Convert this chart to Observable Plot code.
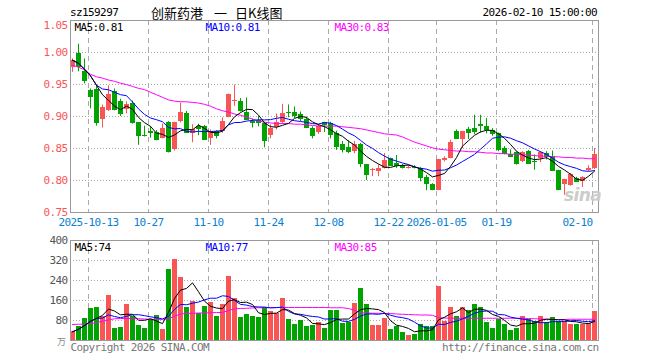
<!DOCTYPE html>
<html><head><meta charset="utf-8">
<script src="https://cdn.jsdelivr.net/npm/d3@7"></script>
<script src="https://cdn.jsdelivr.net/npm/@observablehq/plot@0.6"></script>
<style>
body{margin:0;background:#fff;}
#wrap{position:relative;width:660px;height:360px;overflow:hidden;background:#fff;font-family:"DejaVu Sans Mono",monospace;font-size:11px;letter-spacing:-0.6px;}
.t{position:absolute;white-space:nowrap;line-height:12px;}
.cn{font-family:'Noto Sans CJK SC';font-size:13px;letter-spacing:0;line-height:15px;top:5px;}
#p1,#p2{position:absolute;left:0;}
#p1{top:0;} #p2{top:232px;}
</style></head><body><div id="wrap">
<div class="t" style="left:70px;top:7px;">sz159297</div>
<div class="t cn" style="left:151px;">创新药港</div>
<div class="t cn" style="left:214px;">一</div>
<div class="t cn" style="left:235px;">日K线图</div>
<div class="t" style="right:63px;top:7px;">2026-02-10 15:00:00</div>
<div id="p1"></div><div id="p2"></div>
</div>
<script>
const open  = [0.977,0.999,0.970,0.940,0.942,0.896,0.909,0.939,0.924,0.911,0.921,0.890,0.871,0.877,0.875,0.866,0.891,0.849,0.892,0.905,0.874,0.885,0.884,0.866,0.876,0.876,0.899,0.923,0.924,0.907,0.892,0.894,0.889,0.870,0.883,0.890,0.907,0.907,0.903,0.895,0.882,0.875,0.890,0.889,0.873,0.857,0.852,0.846,0.856,0.825,0.816,0.814,0.819,0.834,0.826,0.824,0.820,0.821,0.819,0.805,0.794,0.785,0.831,0.835,0.876,0.864,0.879,0.881,0.888,0.885,0.878,0.873,0.850,0.841,0.844,0.829,0.846,0.830,0.834,0.842,0.837,0.816,0.793,0.792,0.803,0.798,0.815,0.819];
const high  = [0.990,1.013,0.990,0.943,0.948,0.918,0.948,0.943,0.927,0.923,0.924,0.890,0.885,0.884,0.878,0.888,0.892,0.891,0.921,0.908,0.887,0.888,0.886,0.879,0.878,0.898,0.935,0.949,0.928,0.929,0.896,0.900,0.891,0.887,0.904,0.919,0.918,0.915,0.907,0.899,0.884,0.887,0.891,0.891,0.877,0.861,0.862,0.861,0.858,0.825,0.819,0.824,0.842,0.835,0.839,0.825,0.823,0.823,0.820,0.808,0.795,0.833,0.837,0.863,0.879,0.876,0.883,0.902,0.902,0.897,0.881,0.874,0.853,0.848,0.845,0.845,0.847,0.840,0.845,0.845,0.846,0.816,0.802,0.811,0.805,0.806,0.823,0.850];
const low   = [0.969,0.970,0.951,0.912,0.885,0.882,0.908,0.909,0.900,0.904,0.888,0.855,0.868,0.866,0.862,0.865,0.843,0.846,0.890,0.874,0.859,0.870,0.863,0.855,0.865,0.874,0.898,0.916,0.907,0.894,0.882,0.884,0.851,0.865,0.879,0.888,0.898,0.897,0.892,0.881,0.865,0.872,0.875,0.865,0.847,0.843,0.842,0.842,0.820,0.800,0.806,0.806,0.818,0.823,0.819,0.818,0.818,0.818,0.798,0.784,0.784,0.784,0.829,0.834,0.864,0.850,0.864,0.872,0.874,0.873,0.869,0.845,0.840,0.836,0.824,0.828,0.825,0.816,0.828,0.832,0.814,0.784,0.777,0.791,0.797,0.789,0.814,0.817];
const close = [0.988,0.978,0.956,0.932,0.890,0.914,0.934,0.911,0.904,0.918,0.890,0.870,0.870,0.875,0.864,0.882,0.845,0.890,0.907,0.875,0.879,0.882,0.864,0.877,0.870,0.892,0.934,0.925,0.909,0.896,0.890,0.891,0.863,0.881,0.891,0.905,0.906,0.902,0.897,0.883,0.870,0.884,0.887,0.872,0.853,0.849,0.846,0.857,0.826,0.810,0.817,0.819,0.832,0.824,0.823,0.820,0.821,0.820,0.805,0.796,0.786,0.833,0.835,0.860,0.865,0.876,0.875,0.877,0.886,0.879,0.874,0.849,0.842,0.838,0.826,0.843,0.827,0.829,0.843,0.837,0.815,0.786,0.801,0.810,0.799,0.805,0.818,0.841];
const volume = [35,55,89,129,133,97,181,49,53,145,97,60,49,83,100,45,285,325,253,133,157,107,137,151,97,145,257,167,93,105,97,93,132,116,109,169,83,63,81,56,60,72,49,121,119,68,73,149,207,144,59,59,89,45,55,33,19,23,63,55,55,215,77,131,97,131,121,145,133,73,49,83,64,41,49,97,85,75,97,73,91,77,76,65,65,65,68,117];
const ma30Price = [0.980,0.977,0.973,0.966,0.962,0.960,0.957,0.955,0.952,0.950,0.947,0.944,0.942,0.938,0.934,0.930,0.926,0.924,0.923,0.923,0.922,0.921,0.919,0.916,0.912,0.909,0.907,0.904,0.902,0.899,0.896,0.893,0.891,0.890,0.889,0.889,0.889,0.888,0.888,0.887,0.886,0.885,0.885,0.885,0.885,0.884,0.883,0.882,0.881,0.879,0.877,0.875,0.873,0.872,0.871,0.868,0.864,0.860,0.857,0.854,0.851,0.849,0.848,0.847,0.846,0.846,0.845,0.845,0.844,0.843,0.843,0.842,0.842,0.841,0.841,0.840,0.840,0.839,0.838,0.838,0.837,0.837,0.836,0.836,0.835,0.835,0.834,0.834];
const ma30Vol = [64,65,66,67,72,77,82,87,88,88,88,87,86,85,84,85,87,97,106,108,109,110,110,111,112,112,120,127,128,129,130,131,131,132,132,132,132,132,132,132,132,132,132,131,131,131,128,121,111,110,109,109,108,108,106,105,104,103,102,102,101,91,90,89,89,89,89,89,89,89,89,89,89,89,89,89,88,87,86,85,84,84,84,85,85,85,85,85];
const tickIndex = [3,13,23,33,43,53,61,71,87];
const tickLabel = ["2025-10-13","10-27","11-10","11-24","12-08","12-22","2026-01-05","01-19","02-10"];
const priceTicks = [0.75,0.80,0.85,0.90,0.95,1.00,1.05];
const volTicks = [80,160,240,320,400];
const priceMaLabels = ["MA5:0.81","MA10:0.81","MA30:0.83"];
const volMaLabels = ["MA5:74","MA10:77","MA30:85"];

const RED = "#fa5555", GREEN = "#00a300", GRID = "#aaaaaa", FRAME = "#999999", BLUE_T = "#0a7fd0";
const FONT = "'DejaVu Sans Mono', monospace";
const style = {fontFamily: FONT, fontSize: "11px", letterSpacing: "-0.6px", background: "transparent", overflow: "visible"};

const bars = open.map((o, i) => ({i, o, h: high[i], l: low[i], c: close[i], v: volume[i], col: close[i] >= o ? RED : GREEN}));
const ma = (a, n) => a.map((_, i) => d3.mean(a.slice(Math.max(0, i - n + 1), i + 1)));
const line = arr => arr.map((v, i) => ({x: i + 2/6, y: v}));
const pm5 = ma(close, 5), pm10 = ma(close, 10), vm5 = ma(volume, 5), vm10 = ma(volume, 10);
const ticks = tickIndex.map((t, k) => ({t, label: tickLabel[k], last: k === tickIndex.length - 1}));
const maColors = ["#000000", "#0000ff", "#ff00ff"];
const maX = [4, 135, 264];

const price = Plot.plot({
  width: 660, height: 232, marginLeft: 70, marginRight: 62, marginTop: 20, marginBottom: 20,
  x: {domain: [0, 88], axis: null}, y: {domain: [0.75, 1.05], axis: null}, color: {type: "identity"},
  style,
  marks: [
    Plot.ruleY(priceTicks.slice(1, -1), {stroke: GRID, strokeDasharray: "1,2"}),
    Plot.ruleX(tickIndex, {stroke: GRID, strokeDasharray: "5,4"}),
    Plot.ruleX(bars, {x: d => d.i + 2/6, y1: "l", y2: "h", stroke: "col"}),
    Plot.rect(bars, {x1: d => d.i, x2: d => d.i + 5/6, y1: d => Math.min(d.o, d.c), y2: d => Math.max(d.o, d.c), fill: "col", shapeRendering: "crispEdges"}),
    Plot.ruleY(bars, {x1: d => d.i, x2: d => d.i + 5/6, y: "c", stroke: "col", shapeRendering: "crispEdges"}),
    Plot.line(line(ma30Price), {x: "x", y: "y", stroke: "#ff00ff", strokeWidth: 1}),
    Plot.line(line(pm10), {x: "x", y: "y", stroke: "#0000ff", strokeWidth: 1}),
    Plot.line(line(pm5), {x: "x", y: "y", stroke: "#000000", strokeWidth: 1}),
    Plot.frame({stroke: FRAME}),
    Plot.text(priceTicks.slice(0, -1), {x: 0, y: d => d, dx: -3, text: d => d.toFixed(2), textAnchor: "end", fill: RED}),
    Plot.text([1.05], {x: 0, y: d => d, dx: -3, dy: 5, text: d => d.toFixed(2), textAnchor: "end", fill: RED}),
    Plot.text(ticks.filter(d => !d.last), {x: "t", y: 0.75, dy: 10, text: "label", textAnchor: "middle", fill: BLUE_T}),
    Plot.text(ticks.filter(d => d.last), {x: "t", y: 0.75, dy: 10, text: "label", textAnchor: "end", fill: BLUE_T}),
    Plot.text(priceMaLabels.map((s, k) => ({s, k})), {x: d => maX[d.k] / 6, frameAnchor: "top", text: "s", fill: d => maColors[d.k], textAnchor: "start", lineAnchor: "middle", dy: 7}),
    Plot.text(["sina"], {frameAnchor: "bottom-right", dx: -16, dy: -12, text: d => d, fill: "#cccccc", fontSize: 17, fontWeight: "bold", fontStyle: "italic", fontFamily: "DejaVu Sans", textAnchor: "middle", letterSpacing: "0"})
  ]
});
document.getElementById("p1").append(price);

const vol = Plot.plot({
  width: 660, height: 128, marginLeft: 70, marginRight: 62, marginTop: 8, marginBottom: 20,
  x: {domain: [0, 88], axis: null}, y: {domain: [0, 400], axis: null}, color: {type: "identity"},
  style,
  marks: [
    Plot.ruleY(volTicks.slice(0, -1), {stroke: GRID, strokeDasharray: "1,2"}),
    Plot.ruleX(tickIndex, {stroke: GRID, strokeDasharray: "5,4"}),
    Plot.rect(bars, {x1: d => d.i, x2: d => d.i + 5/6, y1: 0, y2: "v", fill: "col", shapeRendering: "crispEdges"}),
    Plot.line(line(ma30Vol), {x: "x", y: "y", stroke: "#ff00ff", strokeWidth: 1}),
    Plot.line(line(vm10), {x: "x", y: "y", stroke: "#0000ff", strokeWidth: 1}),
    Plot.line(line(vm5), {x: "x", y: "y", stroke: "#000000", strokeWidth: 1}),
    Plot.frame({stroke: FRAME}),
    Plot.text(volTicks, {x: 0, y: d => d, dx: -3, text: d => String(d), textAnchor: "end", fill: "#555"}),
    Plot.text(["万"], {x: 0, y: 0, dx: -5, dy: 2, text: d => d, textAnchor: "end", fill: "#888", fontFamily: "Noto Sans CJK SC", fontSize: 9}),
    Plot.text(volMaLabels.map((s, k) => ({s, k})), {x: d => maX[d.k] / 6, frameAnchor: "top", text: "s", fill: d => maColors[d.k], textAnchor: "start", lineAnchor: "middle", dy: 7}),
    Plot.text(["Copyright 2026 SINA.COM"], {frameAnchor: "bottom-left", dy: 7, text: d => d, fill: "#777", textAnchor: "start", lineAnchor: "middle"}),
    Plot.text(["http://finance.sina.com.cn"], {frameAnchor: "bottom-right", dy: 7, text: d => d, fill: "#777", textAnchor: "end", lineAnchor: "middle"})
  ]
});
document.getElementById("p2").append(vol);
</script></body></html>
